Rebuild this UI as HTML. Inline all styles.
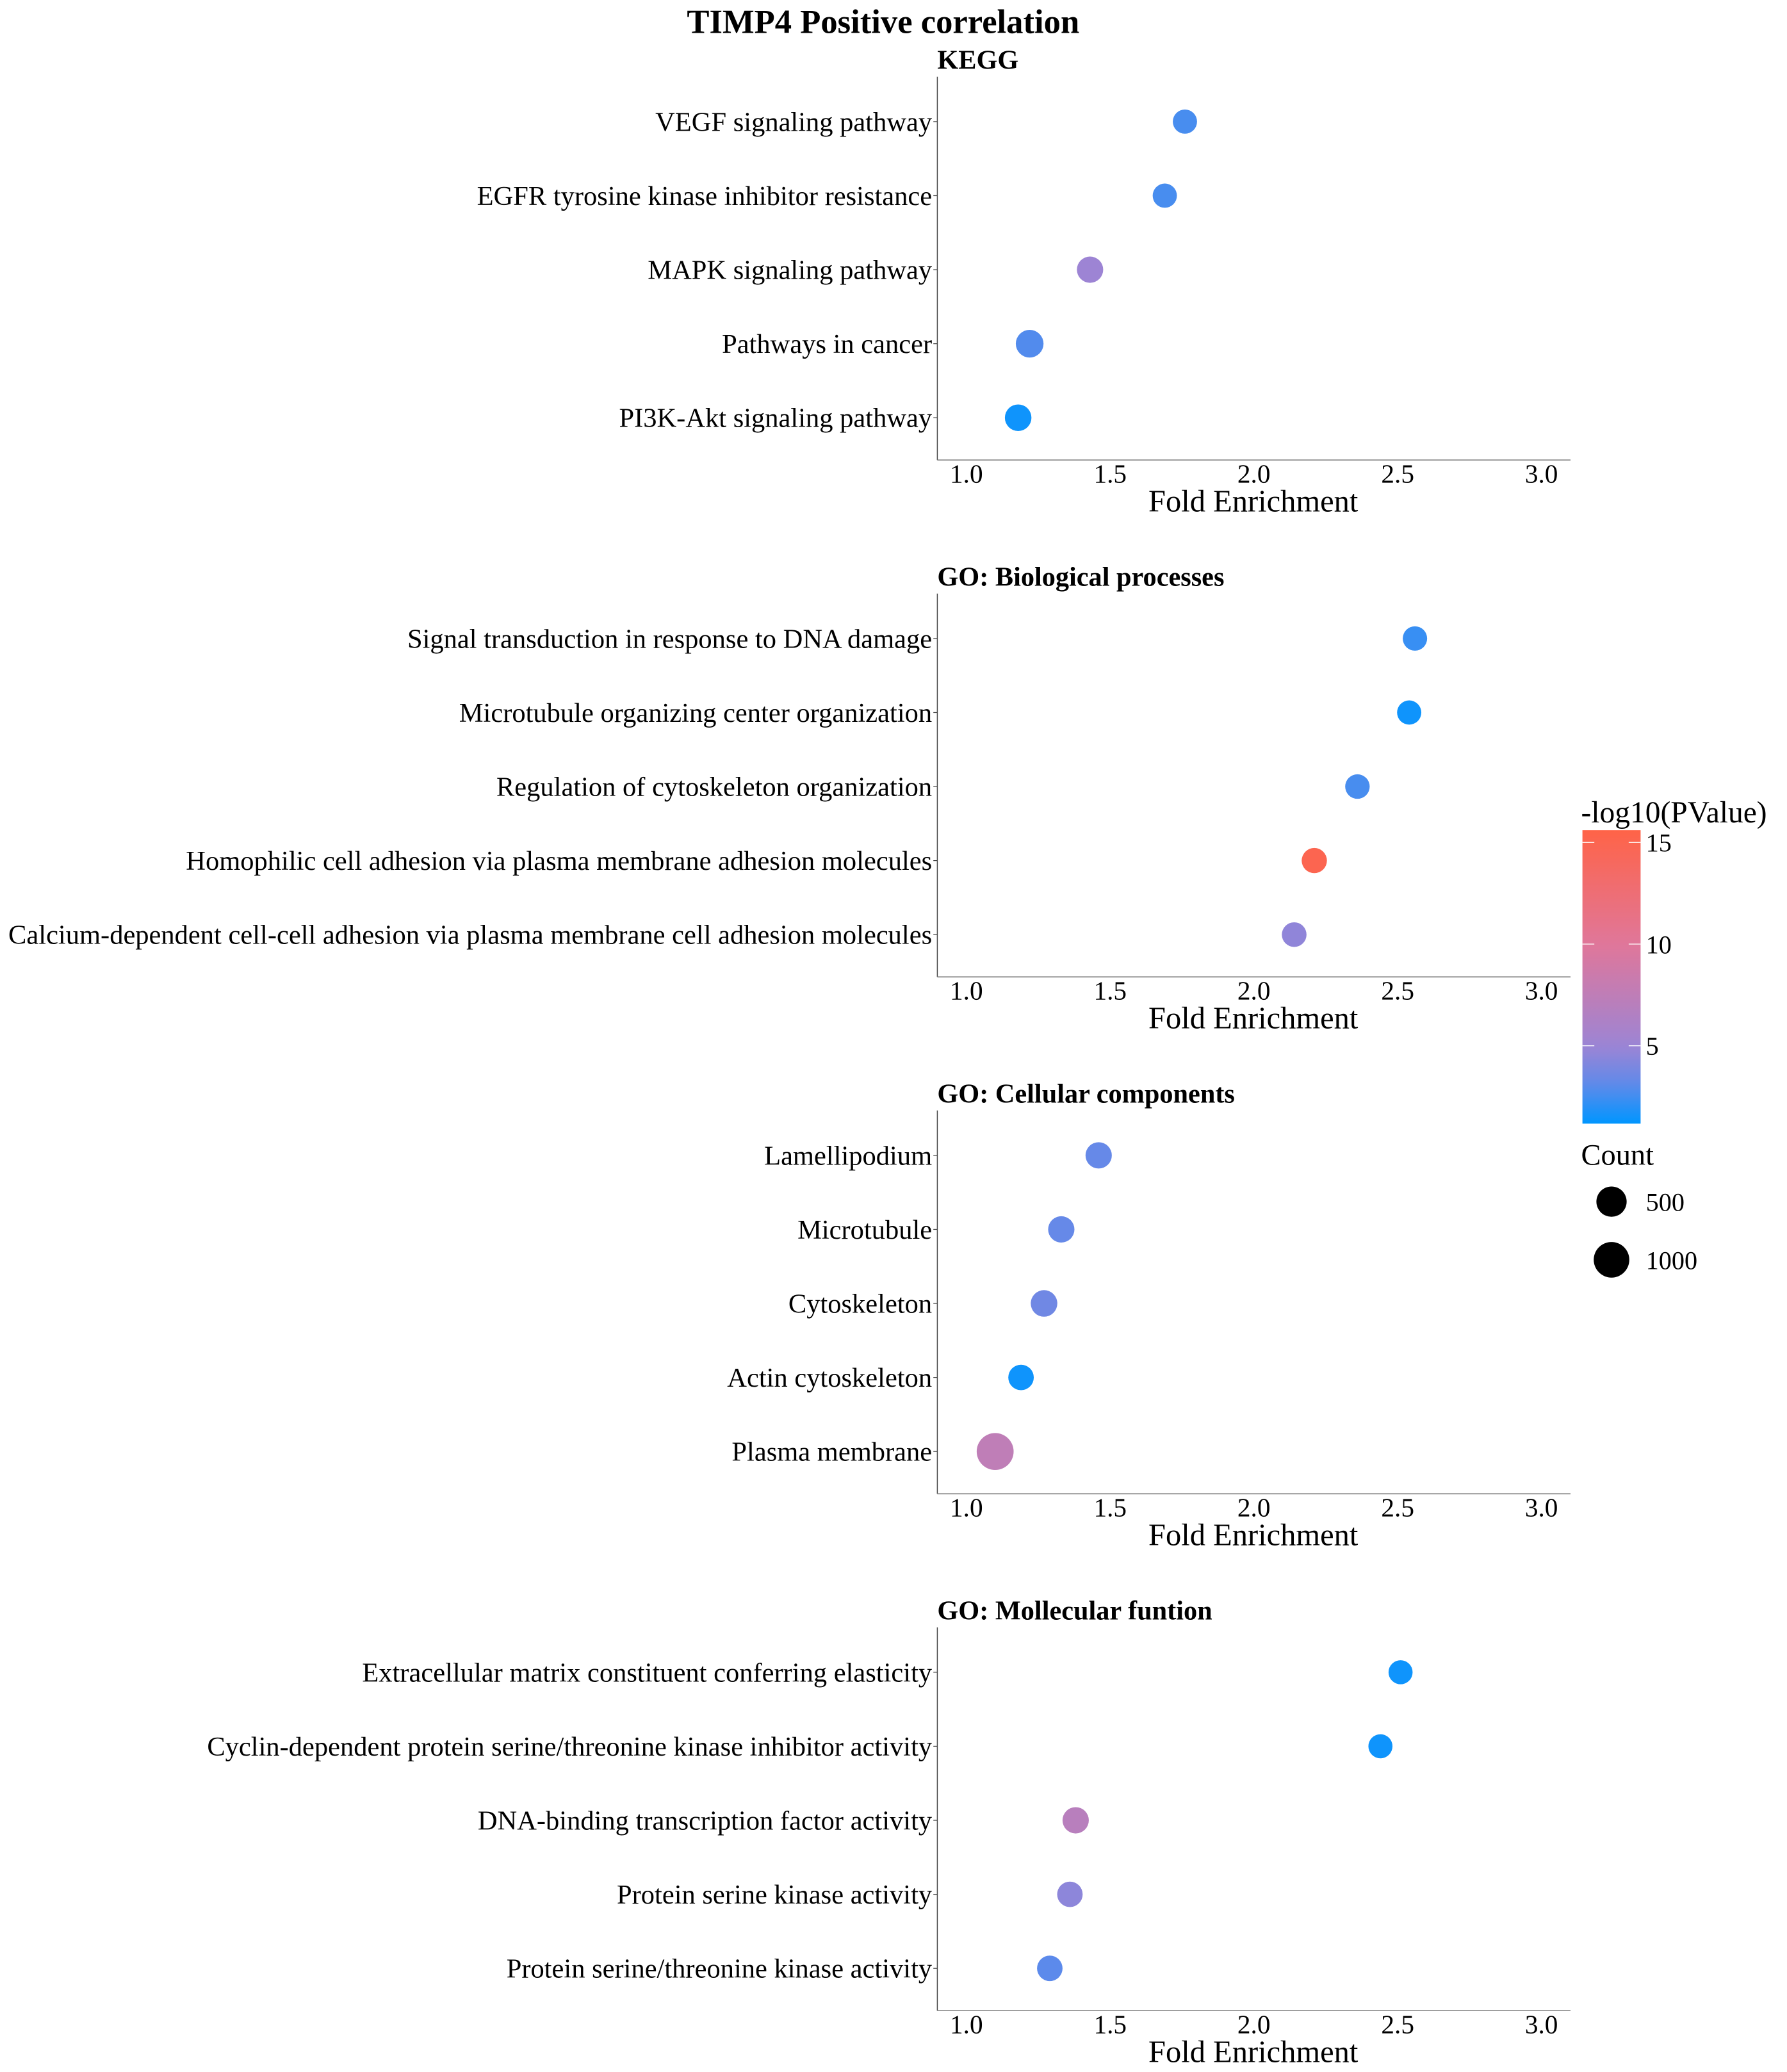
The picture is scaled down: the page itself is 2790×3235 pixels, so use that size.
<!DOCTYPE html>
<html><head><meta charset="utf-8"><style>
html,body{margin:0;padding:0;background:#fff;}
svg{display:block;font-family:"Liberation Serif",serif;}
</style></head><body>
<svg id="chart" width="2790" height="3235" viewBox="0 0 1351.7 1567.4" xmlns="http://www.w3.org/2000/svg">
<text x="668" y="25" text-anchor="middle" font-size="25.5" font-weight="bold">TIMP4 Positive correlation</text>
<g id="panels"></g>
<g id="legend"></g>
</svg>
<script>
const panelTitles = ["KEGG","GO: Biological processes","GO: Cellular components","GO: Mollecular funtion"];
const categories = [
 ["VEGF signaling pathway","EGFR tyrosine kinase inhibitor resistance","MAPK signaling pathway","Pathways in cancer","PI3K-Akt signaling pathway"],
 ["Signal transduction in response to DNA damage","Microtubule organizing center organization","Regulation of cytoskeleton organization","Homophilic cell adhesion via plasma membrane adhesion molecules","Calcium-dependent cell-cell adhesion via plasma membrane cell adhesion molecules"],
 ["Lamellipodium","Microtubule","Cytoskeleton","Actin cytoskeleton","Plasma membrane"],
 ["Extracellular matrix constituent conferring elasticity","Cyclin-dependent protein serine/threonine kinase inhibitor activity","DNA-binding transcription factor activity","Protein serine kinase activity","Protein serine/threonine kinase activity"]
];
const foldEnrichment = [
 [1.76,1.69,1.43,1.22,1.18],
 [2.56,2.54,2.36,2.21,2.14],
 [1.46,1.33,1.27,1.19,1.10],
 [2.51,2.44,1.38,1.36,1.29]
];
const negLogP = [
 [2.6,2.6,5.0,2.8,1.5],
 [2.3,1.5,2.6,15.0,4.6],
 [3.3,3.3,3.6,1.5,7.5],
 [1.5,1.5,7.0,4.5,3.0]
];
const counts = [
 [30,30,180,290,200],
 [40,30,50,100,60],
 [180,180,200,120,1140],
 [20,20,180,120,120]
];
const xTicks = [1.0,1.5,2.0,2.5,3.0];
const xTickLabels = ["1.0","1.5","2.0","2.5","3.0"];
const colorTicks = [5,10,15];
const sizeLegend = [500,1000];

const NS="http://www.w3.org/2000/svg";
function mk(tag,attrs,parent){const e=document.createElementNS(NS,tag);for(const k in attrs)e.setAttribute(k,attrs[k]);parent.appendChild(e);return e;}
const xScale = v => 731 + (v-1.0)*217.5;
const pMin=1.17, pMax=15.6;
const cScale = v => 850 - (v-pMin)/(pMax-pMin)*222;
const rScale = c => Math.sqrt(81 + 0.1*c);
const stops=[[1.2,[0,150,255]],[3,[92,138,235]],[5,[157,132,212]],[10,[224,119,154]],[15.6,[255,99,71]]];
function colorOf(v){
 if(v<=stops[0][0])return 'rgb('+stops[0][1].join(',')+')';
 for(let i=1;i<stops.length;i++){if(v<=stops[i][0]){const a=stops[i-1],b=stops[i];const t=(v-a[0])/(b[0]-a[0]);const c=a[1].map((x,j)=>Math.round(x+(b[1][j]-x)*t));return 'rgb('+c.join(',')+')';}}
 return 'rgb('+stops[stops.length-1][1].join(',')+')';
}
const panels=document.getElementById('panels');
for(let p=0;p<4;p++){
 const off=p*391;
 const g=mk('g',{},panels);
 
 
 const t=mk('text',{x:709,y:52+off,'font-size':20.5,'font-weight':'bold'},g);t.textContent=panelTitles[p];
 
 
 const ya=mk('line',{x1:709,y1:58+off,x2:709,y2:348+off,stroke:'#444','stroke-width':0.7},g);
 
 
 const xa=mk('line',{x1:709,y1:348+off,x2:1188,y2:348+off,stroke:'#888','stroke-width':0.8},g);
 
 
 xTicks.forEach((v,i)=>{
  const tl=mk('text',{x:xScale(v),y:365+off,'text-anchor':'middle','font-size':20},g);tl.textContent=xTickLabels[i];
  
  
 });
 const at=mk('text',{x:948,y:387+off,'text-anchor':'middle','font-size':23.5},g);at.textContent='Fold Enrichment';
 
 
 categories[p].forEach((c,i)=>{
  const y=92+i*56+off;
  const l=mk('text',{x:705,y:y+7,'text-anchor':'end','font-size':20.6},g);l.textContent=c;
  
  
  mk('line',{x1:706,y1:y,x2:709,y2:y,stroke:'#444','stroke-width':0.6},g);
  const d=mk('circle',{cx:xScale(foldEnrichment[p][i]),cy:y,r:rScale(counts[p][i]),fill:colorOf(negLogP[p][i])},g);
  
  
 });
}
const lg=document.getElementById('legend');
const lt=mk('text',{x:1196,y:622,'font-size':23},lg);lt.textContent='-log10(PValue)';


const defs=mk('defs',{},lg);
const grad=mk('linearGradient',{id:'cg',x1:0,y1:1,x2:0,y2:0},defs);
for(let i=0;i<=20;i++){const v=pMin+(pMax-pMin)*i/20;mk('stop',{offset:(i/20),'stop-color':colorOf(v)},grad);}
const cb=mk('rect',{x:1197,y:628,width:44,height:222,fill:'url(#cg)'},lg);


colorTicks.forEach(v=>{
 const y=cScale(v);
 mk('line',{x1:1197,y1:y,x2:1206,y2:y,stroke:'#fff','stroke-width':0.6},lg);
 mk('line',{x1:1232,y1:y,x2:1241,y2:y,stroke:'#fff','stroke-width':0.6},lg);
 const tx=mk('text',{x:1245,y:y+7,'font-size':19.5},lg);tx.textContent=String(v);
 
 
});
const ct=mk('text',{x:1196,y:881,'font-size':22.5},lg);ct.textContent='Count';


sizeLegend.forEach((c,i)=>{
 const y=909+i*44;
 const d=mk('circle',{cx:1219,cy:y,r:rScale(c),fill:'#000'},lg);
 
 
 const tx=mk('text',{x:1245,y:y+7,'font-size':19.5},lg);tx.textContent=String(c);
 
 
});
</script>
</body></html>
